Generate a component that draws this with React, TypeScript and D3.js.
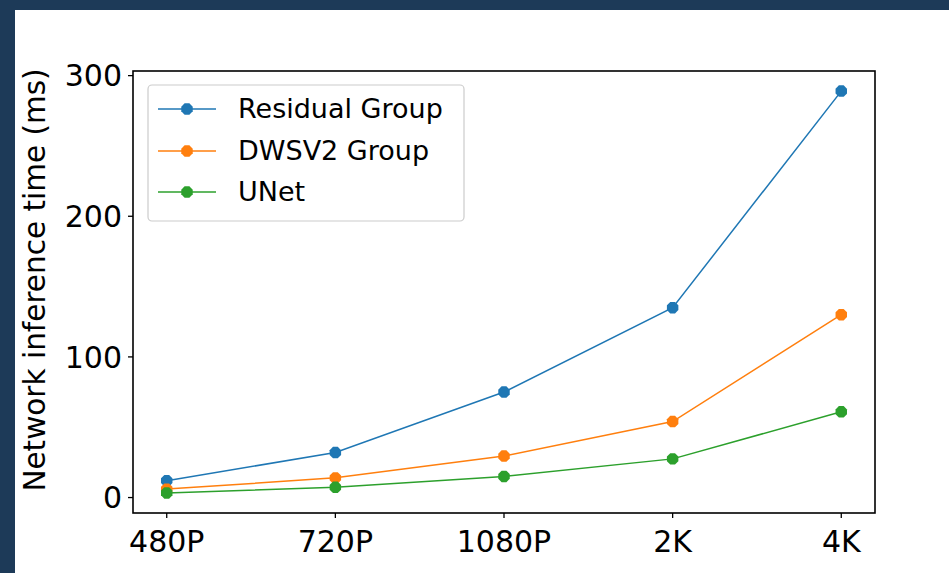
import React from "react";
import * as d3 from "d3";

const categories = ["480P", "720P", "1080P", "2K", "4K"];
const residualGroup = [12, 32, 75, 135, 289];
const dwsv2Group = [6, 14, 29.5, 54, 130];
const unet = [3.3, 7.3, 15, 27.5, 61];
const yTicks = [0, 100, 200, 300];
const seriesNames = ["Residual Group", "DWSV2 Group", "UNet"];
const seriesColors = ["#1f77b4", "#ff7f0e", "#2ca02c"];

const W = 949;
const H = 573;
const plot = { left: 133, right: 875, top: 71, bottom: 513 };
const FONT = "DejaVu Sans, sans-serif";

function octagon(cx: number, cy: number, r: number) {
  const pts: string[] = [];
  for (let i = 0; i < 8; i++) {
    const a = Math.PI / 8 + (i * Math.PI) / 4;
    pts.push(`${cx + r * Math.cos(a)},${cy + r * Math.sin(a)}`);
  }
  return pts.join(" ");
}

export default function App() {
  const series = [residualGroup, dwsv2Group, unet];
  const allVals = series.flat();
  const yMin = d3.min(allVals)!;
  const yMax = d3.max(allVals)!;
  const pad = (yMax - yMin) * 0.05;
  const y = d3.scaleLinear().domain([yMin - pad, yMax + pad]).range([plot.bottom, plot.top]);
  const x = d3
    .scaleLinear()
    .domain([-0.2, categories.length - 1 + 0.2])
    .range([plot.left, plot.right]);
  const line = d3
    .line<number>()
    .x((_, i) => x(i))
    .y((d) => y(d));

  const legendX = 148;
  const legendY = 85;
  const legendRows = [109, 151, 192];

  return (
    <svg
      width={W}
      height={H}
      style={{ position: "absolute", left: 0, top: 0, display: "block" }}
      fontFamily={FONT}
    >
      <rect x={0} y={0} width={W} height={H} fill="#1d3a58" />
      <rect x={15} y={10} width={W - 15} height={H - 10} fill="#ffffff" />

      {series.map((s, si) => (
        <g key={si}>
          <path d={line(s) || ""} fill="none" stroke={seriesColors[si]} strokeWidth={1.5} />
          {s.map((v, i) => (
            <polygon key={i} points={octagon(x(i), y(v), 6.2)} fill={seriesColors[si]} />
          ))}
        </g>
      ))}

      <rect
        x={plot.left}
        y={plot.top}
        width={plot.right - plot.left}
        height={plot.bottom - plot.top}
        fill="none"
        stroke="#000"
        strokeWidth={1.6}
      />

      {yTicks.map((t) => (
        <g key={t}>
          <line x1={plot.left - 5} x2={plot.left} y1={y(t)} y2={y(t)} stroke="#000" strokeWidth={1.3} />
          <text x={plot.left - 11} y={y(t)} dy="0.36em" textAnchor="end" fontSize={30} fill="#000">
            {t}
          </text>
        </g>
      ))}
      {categories.map((c, i) => (
        <g key={c}>
          <line x1={x(i)} x2={x(i)} y1={plot.bottom} y2={plot.bottom + 5} stroke="#000" strokeWidth={1.3} />
          <text x={x(i)} y={552} textAnchor="middle" fontSize={30} fill="#000">
            {c}
          </text>
        </g>
      ))}

      <text
        transform={`translate(45, ${(plot.top + plot.bottom) / 2 - 12}) rotate(-90)`}
        textAnchor="middle"
        fontSize={29.5}
        fill="#000"
      >
        Network inference time (ms)
      </text>

      <rect
        x={legendX}
        y={legendY}
        width={316}
        height={136}
        rx={4}
        fill="#fff"
        fillOpacity={0.8}
        stroke="#cccccc"
        strokeWidth={1.2}
      />
      {seriesNames.map((n, i) => (
        <g key={n}>
          <line x1={158} x2={216} y1={legendRows[i]} y2={legendRows[i]} stroke={seriesColors[i]} strokeWidth={1.5} />
          <polygon points={octagon(187, legendRows[i], 6.2)} fill={seriesColors[i]} />
          <text x={238} y={legendRows[i] + 9} fontSize={27} fill="#000">
            {n}
          </text>
        </g>
      ))}
    </svg>
  );
}
